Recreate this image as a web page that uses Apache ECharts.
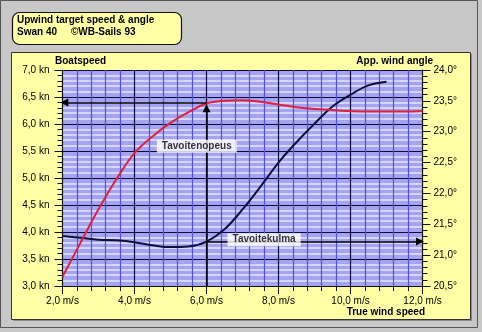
<!DOCTYPE html>
<html>
<head>
<meta charset="utf-8">
<script src="https://cdn.jsdelivr.net/npm/echarts@6/dist/echarts.min.js"></script>
<style>
  html, body { margin: 0; padding: 0; background: #c8c8c8; }
  #chart { width: 482px; height: 332px; }
</style>
</head>
<body>
<div id="chart"></div>
<script>
// Swan 40 upwind targets versus true wind speed
const windSpeed = [2.0, 2.5, 3.0, 3.5, 4.0, 4.5, 5.0, 5.5, 6.0, 6.5, 7.0, 7.5, 8.0, 8.5, 9.0, 9.5, 10.0, 10.5, 11.0, 11.5, 12.0];
const boatSpeed = [3.17, 3.80, 4.42, 4.98, 5.46, 5.77, 6.02, 6.22, 6.38, 6.43, 6.44, 6.41, 6.36, 6.31, 6.28, 6.26, 6.24, 6.23, 6.23, 6.23, 6.24];
const windAngle = [21.31, 21.28, 21.25, 21.24, 21.21, 21.16, 21.13, 21.14, 21.22, 21.42, 21.74, 22.11, 22.50, 22.83, 23.13, 23.41, 23.60, 23.75, 23.81];

// axis ranges and tick steps
const speedAxis = { min: 3.0, max: 7.0, step: 0.5 };
const angleAxis = { min: 20.5, max: 24.0, step: 0.5 };
const windAxis = { min: 2.0, max: 12.0, step: 2.0 };

// target reading at 6 m/s
const targetWind = 6.0;
const targetSpeed = 6.40;
const targetSpeedArrowTop = 6.29;
const targetAngle = 21.22;
const speedArrowEnd = 2.05;
const angleArrowEnd = 11.93;

const titleLines = ['Upwind target speed & angle', 'Swan 40     \u00A9WB-Sails 93'];
const fmt = v => v.toFixed(1).replace('.', ',');

const FONT = '"Liberation Sans", Arial, Helvetica, sans-serif';
const chart = echarts.init(document.getElementById('chart'), null, { renderer: 'canvas' });

const boatPairs = windSpeed.map((w, i) => [w, boatSpeed[i]]);
const anglePairs = windAngle.map((a, i) => [windSpeed[i], a]);

const noteLabel = (text) => ({
  show: true,
  position: 'inside',
  formatter: text,
  backgroundColor: '#ffffff',
  padding: [2, 5, 1, 5],
  color: '#000',
  fontFamily: FONT,
  fontWeight: 'bold',
  fontSize: 10
});

chart.setOption({
  backgroundColor: '#c8c8c8',
  animation: false,
  textStyle: { fontFamily: FONT },
  graphic: [
    { type: 'rect', z: -10, shape: { x: 0.5, y: 0.5, width: 477, height: 327 }, style: { fill: '#c8c8c8', stroke: '#555', lineWidth: 1 } },
    { type: 'rect', z: -9, shape: { x: 13, y: 54, width: 459, height: 267 }, style: { fill: '#8a8a8a' } },
    { type: 'rect', z: -8, shape: { x: 11.5, y: 52.5, width: 459, height: 267 }, style: { fill: '#ffffa6', stroke: '#333', lineWidth: 1 } },
    { type: 'rect', z: -8, shape: { x: 12.5, y: 12.5, width: 169, height: 32, r: 7 }, style: { fill: '#ffffa6', stroke: '#111', lineWidth: 1.2 } },
    { type: 'text', left: 17, top: 15, style: { text: titleLines[0], font: 'bold 10px ' + FONT, fill: '#000' } },
    { type: 'text', left: 17, top: 27, style: { text: titleLines[1], font: 'bold 10px ' + FONT, fill: '#000' } },
    { type: 'text', left: 55, top: 56, style: { text: 'Boatspeed', font: 'bold 10px ' + FONT, fill: '#000' } },
    { type: 'text', right: 49, top: 56, style: { text: 'App. wind angle', font: 'bold 10px ' + FONT, fill: '#000', textAlign: 'right' } },
    { type: 'text', right: 57, top: 307, style: { text: 'True wind speed', font: 'bold 10px ' + FONT, fill: '#000', textAlign: 'right' } }
  ],
  grid: {
    left: 62.5, right: 59.5, top: 70, bottom: 46,
    show: true, backgroundColor: '#a4a4f0', borderWidth: 0
  },
  xAxis: {
    type: 'value',
    min: windAxis.min, max: windAxis.max, interval: windAxis.step,
    axisLine: { show: true, onZero: false, lineStyle: { color: '#111', width: 1 } },
    axisTick: { show: true, length: 8, lineStyle: { color: '#111' } },
    minorTick: { show: true, splitNumber: 5, length: 5, lineStyle: { color: '#111' } },
    axisLabel: { formatter: v => fmt(v) + ' m/s', color: '#000', fontSize: 10, margin: 10, fontFamily: FONT },
    splitLine: { show: true, lineStyle: { color: '#0a0a40', width: 1.2 } },
    minorSplitLine: { show: true, lineStyle: { color: '#5252e0', width: 1.2 } }
  },
  yAxis: [
    {
      type: 'value',
      min: speedAxis.min, max: speedAxis.max, interval: speedAxis.step,
      axisLine: { show: true, onZero: false, lineStyle: { color: '#111', width: 1 } },
      axisTick: { show: true, length: 8, lineStyle: { color: '#111' } },
      minorTick: { show: true, splitNumber: 5, length: 5, lineStyle: { color: '#111' } },
      axisLabel: { formatter: v => fmt(v) + ' kn', color: '#000', fontSize: 10, margin: 13, fontFamily: FONT },
      splitLine: { show: true, lineStyle: { color: '#0a0a40', width: 1.2 } },
      minorSplitLine: { show: true, lineStyle: { color: '#d6d6fc', width: 2 } }
    },
    {
      type: 'value',
      position: 'right',
      min: angleAxis.min, max: angleAxis.max, interval: angleAxis.step,
      axisLine: { show: true, onZero: false, lineStyle: { color: '#111', width: 1 } },
      axisTick: { show: true, length: 8, lineStyle: { color: '#111' } },
      minorTick: { show: true, splitNumber: 5, length: 5, lineStyle: { color: '#111' } },
      axisLabel: { formatter: v => fmt(v) + '\u00B0', color: '#000', fontSize: 10, margin: 11, fontFamily: FONT },
      splitLine: { show: false },
      minorSplitLine: { show: false }
    }
  ],
  series: [
    {
      name: 'Boatspeed',
      type: 'line',
      yAxisIndex: 0,
      data: boatPairs,
      smooth: 0.4,
      showSymbol: false,
      z: 4,
      lineStyle: { color: '#e0203c', width: 2 },
      markLine: {
        silent: true,
        symbol: ['none', 'triangle'],
        symbolSize: 8,
        label: { show: false },
        lineStyle: { color: '#000', width: 1.5, type: 'solid' },
        data: [
          [{ coord: [targetWind, targetSpeed] }, { coord: [speedArrowEnd, targetSpeed] }],
          [{ coord: [targetWind, speedAxis.min] }, { coord: [targetWind, targetSpeedArrowTop] }]
        ]
      }
    },
    {
      name: 'App. wind angle',
      type: 'line',
      yAxisIndex: 1,
      data: anglePairs,
      smooth: 0.4,
      showSymbol: false,
      z: 3,
      lineStyle: { color: '#10103a', width: 2 },
      markLine: {
        silent: true,
        symbol: ['none', 'triangle'],
        symbolSize: 8,
        label: { show: false },
        lineStyle: { color: '#000', width: 1.5, type: 'solid' },
        data: [
          [{ coord: [targetWind, targetAngle] }, { coord: [angleArrowEnd, targetAngle] }]
        ]
      }
    },
    {
      name: 'Tavoitenopeus',
      type: 'scatter',
      yAxisIndex: 0,
      z: 10,
      symbolSize: 0,
      silent: true,
      data: [[5.73, 5.59]],
      label: noteLabel('Tavoitenopeus')
    },
    {
      name: 'Tavoitekulma',
      type: 'scatter',
      yAxisIndex: 1,
      z: 10,
      symbolSize: 0,
      silent: true,
      data: [[7.6, 21.25]],
      label: noteLabel('Tavoitekulma')
    }
  ]
});
</script>
</body>
</html>
